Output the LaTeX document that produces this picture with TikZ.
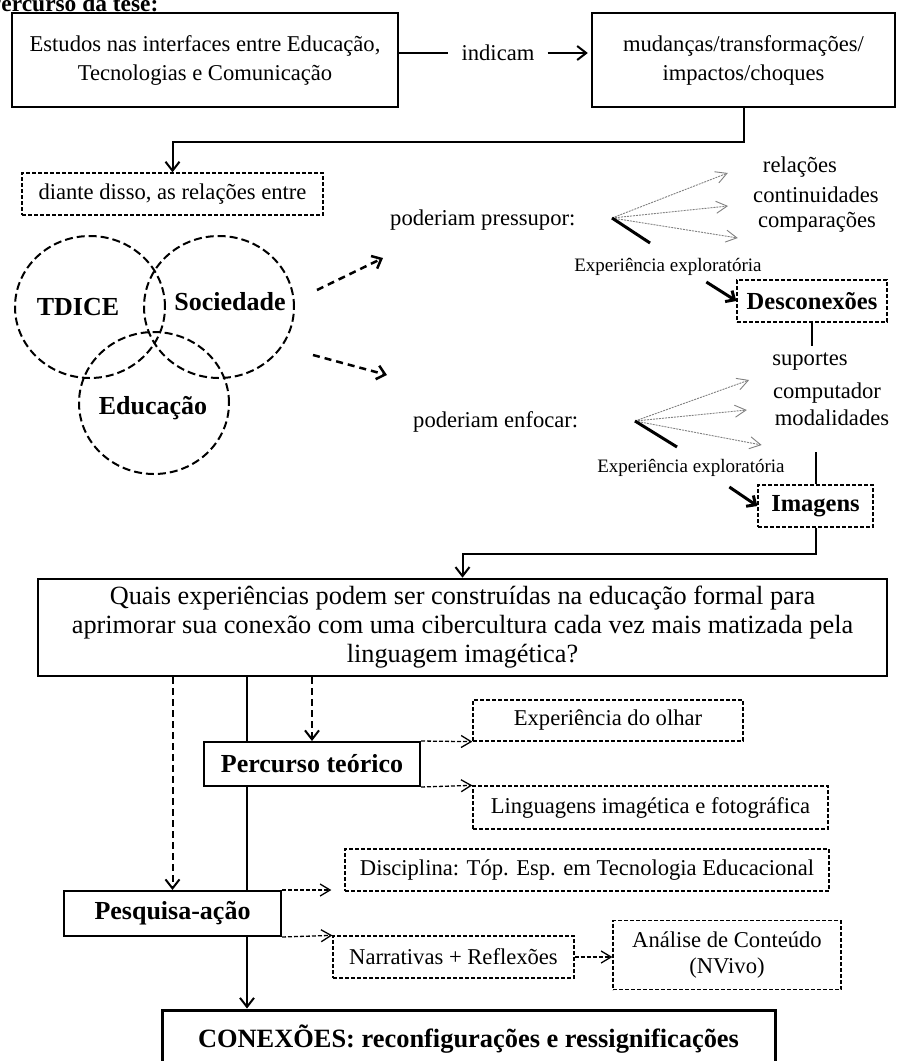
\documentclass[tikz,border=0pt]{standalone}
\usepackage{fontspec}
\setmainfont{Liberation Serif}
\usetikzlibrary{arrows.meta,positioning,calc,shapes.geometric}

\begin{document}
\begin{tikzpicture}[
  x=1pt, y=-1pt,
  txt/.style={inner sep=0pt, font=\fontsize{22.6}{29}\selectfont},
  small/.style={inner sep=0pt, font=\fontsize{19}{22}\selectfont},
  box/.style={
    draw, line width=2.4pt, align=center, inner sep=0pt,
    font=\fontsize{22.6}{29}\selectfont
  },
  bbox/.style={box, line width=2pt, font=\bfseries\fontsize{26}{29}\selectfont},
  dbox/.style={
    draw, line width=1.3pt, dash pattern=on 4pt off 2pt,
    align=center, inner sep=0pt, font=\fontsize{22.6}{26}\selectfont
  },
  dbold/.style={dbox, font=\bfseries\fontsize{24.5}{28}\selectfont},
  ring/.style={
    draw, ellipse, line width=2pt, dash pattern=on 8pt off 4pt,
    minimum width=150pt, minimum height=142pt, inner sep=0pt
  },
  lbl/.style={inner sep=0pt, font=\bfseries\fontsize{26}{29}\selectfont},
  conn/.style={line width=2pt},
  arr/.style={conn, -{Straight Barb[length=9pt,width=14pt]}},
  varr/.style={line width=2pt, dash pattern=on 7pt off 4pt,
    -{Straight Barb[length=9pt,width=14pt]}},
  darr/.style={line width=1.3pt, dash pattern=on 4pt off 2pt,
    -{Straight Barb[length=10pt,width=12pt]}},
  farr/.style={line width=2.5pt, dash pattern=on 7pt off 5pt,
    -{Straight Barb[length=8pt,width=14pt]}},
  fan/.style={gray, line width=0.9pt, dash pattern=on 2pt off 1pt,
    -{Straight Barb[length=11pt,width=12pt]}},
  bar/.style={line width=3pt},
  barr/.style={line width=3pt, -{Straight Barb[length=7pt,width=13pt]}}
]
  \useasboundingbox (0,0) rectangle (899,1061);
  \clip (0,0) rectangle (899,1061);

  % title (cut at the top edge)
  \node[anchor=base west, inner sep=0pt, font=\bfseries\fontsize{23.4}{28}\selectfont]
    (title) at (-13,11) {Percurso da tese:};

  % first row
  \node[box, minimum width=386pt, minimum height=94pt] (estudos) at (205,60)
    {Estudos nas interfaces entre Educação,\\Tecnologias e Comunicação};
  \node[box, minimum width=303pt, minimum height=94pt] (mudancas) at (743.5,60)
    {mudanças/transformações/\\impactos/choques};
  \node[txt, inner xsep=13pt] (indicam) at (498,53) {indicam};
  \draw[conn] (estudos.east |- indicam.west) -- (indicam.west);
  \draw[arr, shorten >=3pt] (indicam.east) -- (indicam.east -| mudancas.west);

  % relations
  \node[dbox, minimum width=301pt, minimum height=42pt] (diante) at (172.5,194)
    {diante disso, as relações entre};
  \draw[arr] (mudancas.south) -- ++(0,34) -| (diante.north);

  % Venn circles
  \node[ring] (tdice) at (90,307) {};
  \node[ring] (soc) at (219,307) {};
  \node[ring] (edu) at (154,403) {};
  \node[lbl] (tdicelbl) at (78,307) {TDICE};
  \node[lbl] (soclbl) at (230,302) {Sociedade};
  \node[lbl] (edulbl) at (153,408) {Educação};

  \coordinate (outA) at (317,290);
  \coordinate (outB) at (313,355);
  \draw[farr] (outA) -- (383,258);
  \draw[farr] (outB) -- (387,375);

  % upper branch
  \node[txt, anchor=west] (pressupor) at (390,220) {poderiam pressupor:};
  \coordinate (fanA) at (612,218);
  \node[txt] (rel) at (800,167) {relações};
  \node[txt] (cont) at (816,195) {continuidades};
  \node[txt] (comp) at (817,222) {comparações};
  \draw[fan] (fanA) -- ($(rel.west)+(-35,6)$);
  \draw[fan] (fanA) -- ($(cont.west)+(-25,11)$);
  \draw[fan] (fanA) -- ($(comp.west)+(-20,16)$);
  \draw[bar] (fanA) -- ++(38,25);
  \node[small] (expA) at (668,267) {Experiência exploratória};
  \node[dbold, minimum width=150pt, minimum height=42pt] (descon) at (812,301)
    {Desconexões};
  \draw[barr] ($(descon.west)+(-30,-19)$) -- (descon.west);
  \draw[conn] (descon.south) -- ++(0,23);

  % lower branch
  \node[txt, anchor=west] (enfocar) at (413,422) {poderiam enfocar:};
  \coordinate (fanB) at (635,421);
  \node[txt] (sup) at (810,362) {suportes};
  \node[txt] (pc) at (827,393) {computador};
  \node[txt] (moda) at (832,418) {modalidades};
  \draw[fan] (fanB) -- ($(sup.west)+(-23,18)$);
  \draw[fan] (fanB) -- ($(pc.west)+(-26,17)$);
  \draw[fan] (fanB) -- ($(moda.west)+(-13,27)$);
  \draw[bar] (fanB) -- ++(42,26);
  \node[small] (expB) at (691,468) {Experiência exploratória};
  \node[dbold, minimum width=115pt, minimum height=42pt] (imagens) at (815.5,506)
    {Imagens};
  \draw[barr] ($(imagens.west)+(-28,-19)$) -- (imagens.west);
  \draw[conn] (imagens.north) -- ++(0,-32);

  % research question
  \node[box, line width=2.6pt, minimum width=849pt, minimum height=97pt,
    font=\fontsize{26.3}{29}\selectfont] (quest) at (462.5,627.5)
    {Quais experiências podem ser construídas na educação formal para\\
     aprimorar sua conexão com uma cibercultura cada vez mais matizada pela\\
     linguagem imagética?};
  \draw[arr] (imagens.south) -- ++(0,26) -| (quest.north);

  % theory and action research
  \node[bbox, minimum width=216pt, minimum height=44pt] (perc) at (312,764)
    {Percurso teórico};
  \node[dbox, minimum width=270pt, minimum height=41pt] (olhar) at (608,720.5)
    {Experiência do olhar};
  \node[dbox, minimum width=355pt, minimum height=43pt] (lingu) at (650.5,807.5)
    {Linguagens imagética e fotográfica};
  \node[dbox, minimum width=484pt, minimum height=42pt] (disc) at (587,870)
    {Disciplina: Tóp. Esp. em Tecnologia Educacional};
  \node[bbox, minimum width=217pt, minimum height=45pt] (pesq) at (172.5,913.5)
    {Pesquisa-ação};
  \node[dbox, minimum width=241pt, minimum height=42pt] (narr) at (453.5,957)
    {Narrativas + Reflexões};
  \node[dbox, minimum width=228pt, minimum height=69pt] (analise) at (727,955)
    {Análise de Conteúdo\\(NVivo)};
  \node[box, line width=3pt, minimum width=613pt, minimum height=58pt,
    font=\bfseries\fontsize{26.4}{29}\selectfont] (conex) at (468.5,1039)
    {CONEXÕES: reconfigurações e ressignificações};

  \coordinate (spine) at (247,0);
  \draw[varr] (quest.south -| pesq.north) -- (pesq.north);
  \draw[varr] (quest.south -| perc.north) -- (perc.north);
  \draw[conn] (quest.south -| spine) -- (perc.north -| spine);
  \draw[conn] (perc.south -| spine) -- (pesq.north -| spine);
  \draw[arr] (pesq.south -| spine) -- (conex.north -| spine);

  \draw[darr] (perc.north east) -- (olhar.south west);
  \draw[darr] (perc.south east) -- (lingu.north west);
  \draw[darr, shorten >=13pt] (pesq.north east) -- (pesq.north east -| disc.west);
  \draw[darr] (pesq.south east) -- (narr.north west);
  \draw[darr] (narr.east) -- (narr.east -| analise.west);

\end{tikzpicture}
\end{document}
